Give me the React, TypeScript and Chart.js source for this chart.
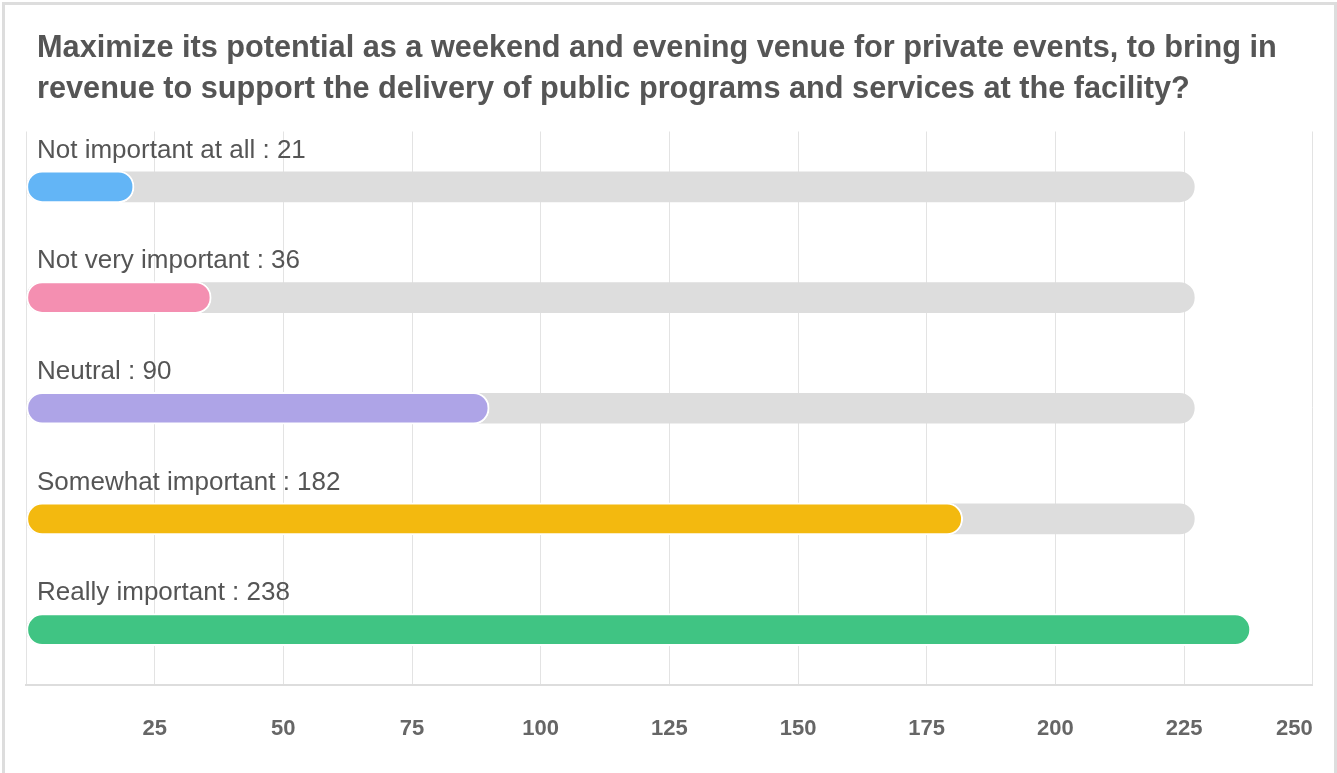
import React, { useEffect, useRef } from 'react';
import { Chart, registerables } from 'chart.js';

Chart.register(...registerables);

const TITLE_LINES = [
  'Maximize its potential as a weekend and evening venue for private events, to bring in',
  'revenue to support the delivery of public programs and services at the facility?',
];
const categories = [
  'Not important at all',
  'Not very important',
  'Neutral',
  'Somewhat important',
  'Really important',
];
const responses = [21, 36, 90, 182, 238];
const trackValues = [227, 227, 227, 227, 227];
const barColors = ['#63b5f6', '#f48fb1', '#aea4e7', '#f3b90f', '#40c483'];
const xTickValues = [0, 25, 50, 75, 100, 125, 150, 175, 200, 225, 250];

const FONT = '"Liberation Sans", Helvetica, Arial, sans-serif';

const barLabelPlugin = {
  id: 'barLabels',
  afterDatasetsDraw(chart: any) {
    const meta = chart.getDatasetMeta(0);
    const ctx = chart.ctx;
    ctx.save();
    ctx.font = `26px ${FONT}`;
    ctx.fillStyle = '#555555';
    ctx.textBaseline = 'middle';
    ctx.textAlign = 'left';
    meta.data.forEach((el: any, i: number) => {
      ctx.fillText(`${categories[i]} : ${responses[i]}`, chart.chartArea.left + 11, el.y - 36.5);
    });
    ctx.restore();
  },
};

export default function App() {
  const canvasRef = useRef<HTMLCanvasElement | null>(null);

  useEffect(() => {
    if (!canvasRef.current) return;
    const chart = new Chart(canvasRef.current, {
      type: 'bar',
      data: {
        labels: categories,
        datasets: [
          {
            data: responses,
            backgroundColor: barColors,
            borderColor: '#ffffff',
            borderWidth: 2,
            borderRadius: 16,
            borderSkipped: false,
            barThickness: 32,
            grouped: false,
            order: 0,
          } as any,
          {
            data: trackValues,
            backgroundColor: '#dddddd',
            borderWidth: 0,
            borderRadius: 15,
            borderSkipped: false,
            barThickness: 30,
            grouped: false,
            order: 1,
          } as any,
        ],
      },
      options: {
        indexAxis: 'y',
        responsive: false,
        maintainAspectRatio: false,
        animation: false,
        layout: { padding: { left: 26, right: 24.3, top: 131.5, bottom: 0 } },
        plugins: {
          legend: { display: false },
          tooltip: { enabled: false },
          title: { display: false },
        },
        scales: {
          x: {
            min: 0,
            max: 250,
            position: 'bottom',
            grid: { color: '#e3e3e3', lineWidth: 1, drawTicks: false },
            border: { display: true, color: '#dddddd', width: 2 },
            ticks: {
              padding: 31,
              align: 'inner',
              color: '#666666',
              font: { size: 22, weight: 'bold', family: FONT },
              callback: (v: any) => (Number(v) === 0 ? '' : String(v)),
            },
            afterBuildTicks: (scale: any) => {
              scale.ticks = xTickValues.map((v) => ({ value: v }));
            },
            afterFit: (scale: any) => {
              scale.height = 88;
              scale.paddingLeft = 0;
              scale.paddingRight = 0;
            },
          } as any,
          y: { display: false },
        },
      },
      plugins: [barLabelPlugin],
    });
    return () => chart.destroy();
  }, []);

  return (
    <div>
      <div
        style={{
          position: 'absolute',
          left: 2,
          top: 2,
          width: 1335,
          height: 771,
          boxSizing: 'border-box',
          borderTop: '3px solid #dddddd',
          borderLeft: '3px solid #dddddd',
          borderRight: '3px solid #dddddd',
          background: '#ffffff',
        }}
      />
      <canvas
        ref={canvasRef}
        width={1337}
        height={773}
        style={{ position: 'absolute', left: 0, top: 0, width: 1337, height: 773 }}
      />
      <div
        style={{
          position: 'absolute',
          left: 37,
          top: 26,
          fontFamily: FONT,
          fontWeight: 'bold',
          fontSize: 30.7,
          lineHeight: '41px',
          color: '#555555',
          whiteSpace: 'nowrap',
        }}
      >
        {TITLE_LINES.map((line, i) => (
          <div key={i}>{line}</div>
        ))}
      </div>
    </div>
  );
}
